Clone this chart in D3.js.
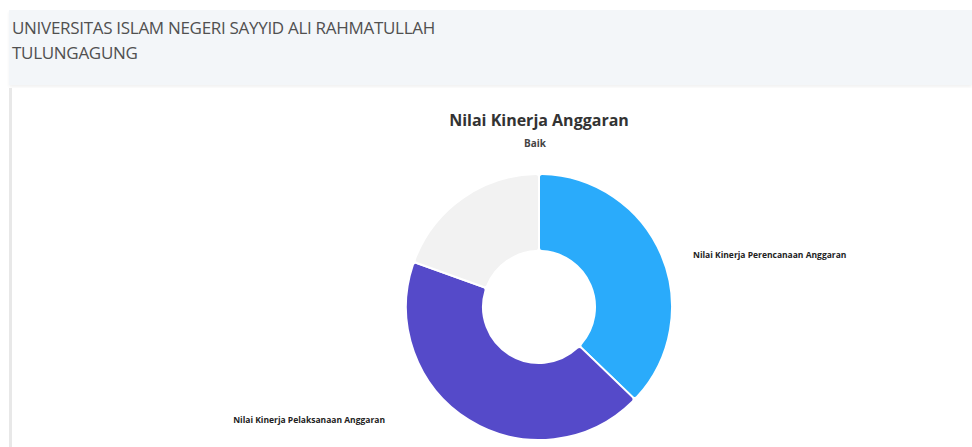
<!DOCTYPE html>
<html>
<head>
<meta charset="utf-8">
<script src="https://cdn.jsdelivr.net/npm/d3@7"></script>
<style>
  body { margin:0; background:#fff; font-family:"Open Sans","Noto Sans",sans-serif; }
  #app { position:relative; width:972px; height:447px; overflow:hidden; }
  .header { position:absolute; left:9px; top:10px; right:0; height:75px; background:#f3f6f9;
            box-shadow:0 2px 3px rgba(0,0,0,0.06); }
  .header div { position:absolute; left:3px; font-size:17px; color:#505050; letter-spacing:-0.3px; }
  .card { position:absolute; left:9px; top:88px; right:0; bottom:0; background:#fff;
          border-left:3px solid #e8e8e8; }
  #graph { position:absolute; left:0; top:0; }
</style>
</head>
<body>
<div id="app">
  <div class="header">
    <div style="top:6px">UNIVERSITAS ISLAM NEGERI SAYYID ALI RAHMATULLAH</div>
    <div style="top:31px">TULUNGAGUNG</div>
  </div>
  <div class="card"></div>
  <div id="graph"></div>
</div>
<script>
// data
const labels = ["Nilai Kinerja Perencanaan Anggaran", "Nilai Kinerja Pelaksanaan Anggaran", ""]
const values = [37.2, 43.3, 19.5]
const colors = ["#2aabfb", "#554ac9", "#f2f2f2"]
const title = "Nilai Kinerja Anggaran"
const subtitle = "Baik"

const width = 972, height = 447
const cx = 539, cy = 307
const outerR = 133, innerR = 56

const svg = d3.select("#graph").append("svg")
  .attr("width", width).attr("height", height)

// titles
svg.append("text")
  .attr("x", cx).attr("y", 126)
  .attr("text-anchor", "middle")
  .attr("font-size", 16).attr("font-weight", "bold").attr("fill", "#333")
  .text(title)
svg.append("text")
  .attr("x", cx - 4).attr("y", 147)
  .attr("text-anchor", "middle")
  .attr("font-size", 10).attr("font-weight", "bold").attr("fill", "#444")
  .text(subtitle)

const data = values.map((v, i) => ({ label: labels[i], value: v, color: colors[i] }))

const pie = d3.pie().value(d => d.value).sort(null)
const arc = d3.arc().innerRadius(innerR).outerRadius(outerR).cornerRadius(3)
const labelArc = d3.arc().innerRadius(outerR).outerRadius(outerR)

const g = svg.append("g").attr("transform", `translate(${cx},${cy})`)

const arcs = pie(data)

g.selectAll("path")
  .data(arcs)
  .enter()
  .append("path")
  .attr("d", arc)
  .attr("fill", d => d.data.color)
  .attr("stroke", "#fff")
  .attr("stroke-width", 2)

// labels to the side, no connector lines
const isRight = d => (d.startAngle + d.endAngle) / 2 < Math.PI

g.selectAll("text.slice-label")
  .data(arcs.filter(d => d.data.label))
  .enter()
  .append("text")
  .attr("class", "slice-label")
  .attr("transform", d => {
    const [, y] = labelArc.centroid(d)
    return `translate(${(isRight(d) ? 1 : -1) * (outerR + 21)},${y})`
  })
  .attr("dy", "0.35em")
  .attr("text-anchor", d => (isRight(d) ? "start" : "end"))
  .attr("font-size", 8.5).attr("font-weight", "bold").attr("fill", "#222")
  .text(d => d.data.label)
</script>
</body>
</html>
